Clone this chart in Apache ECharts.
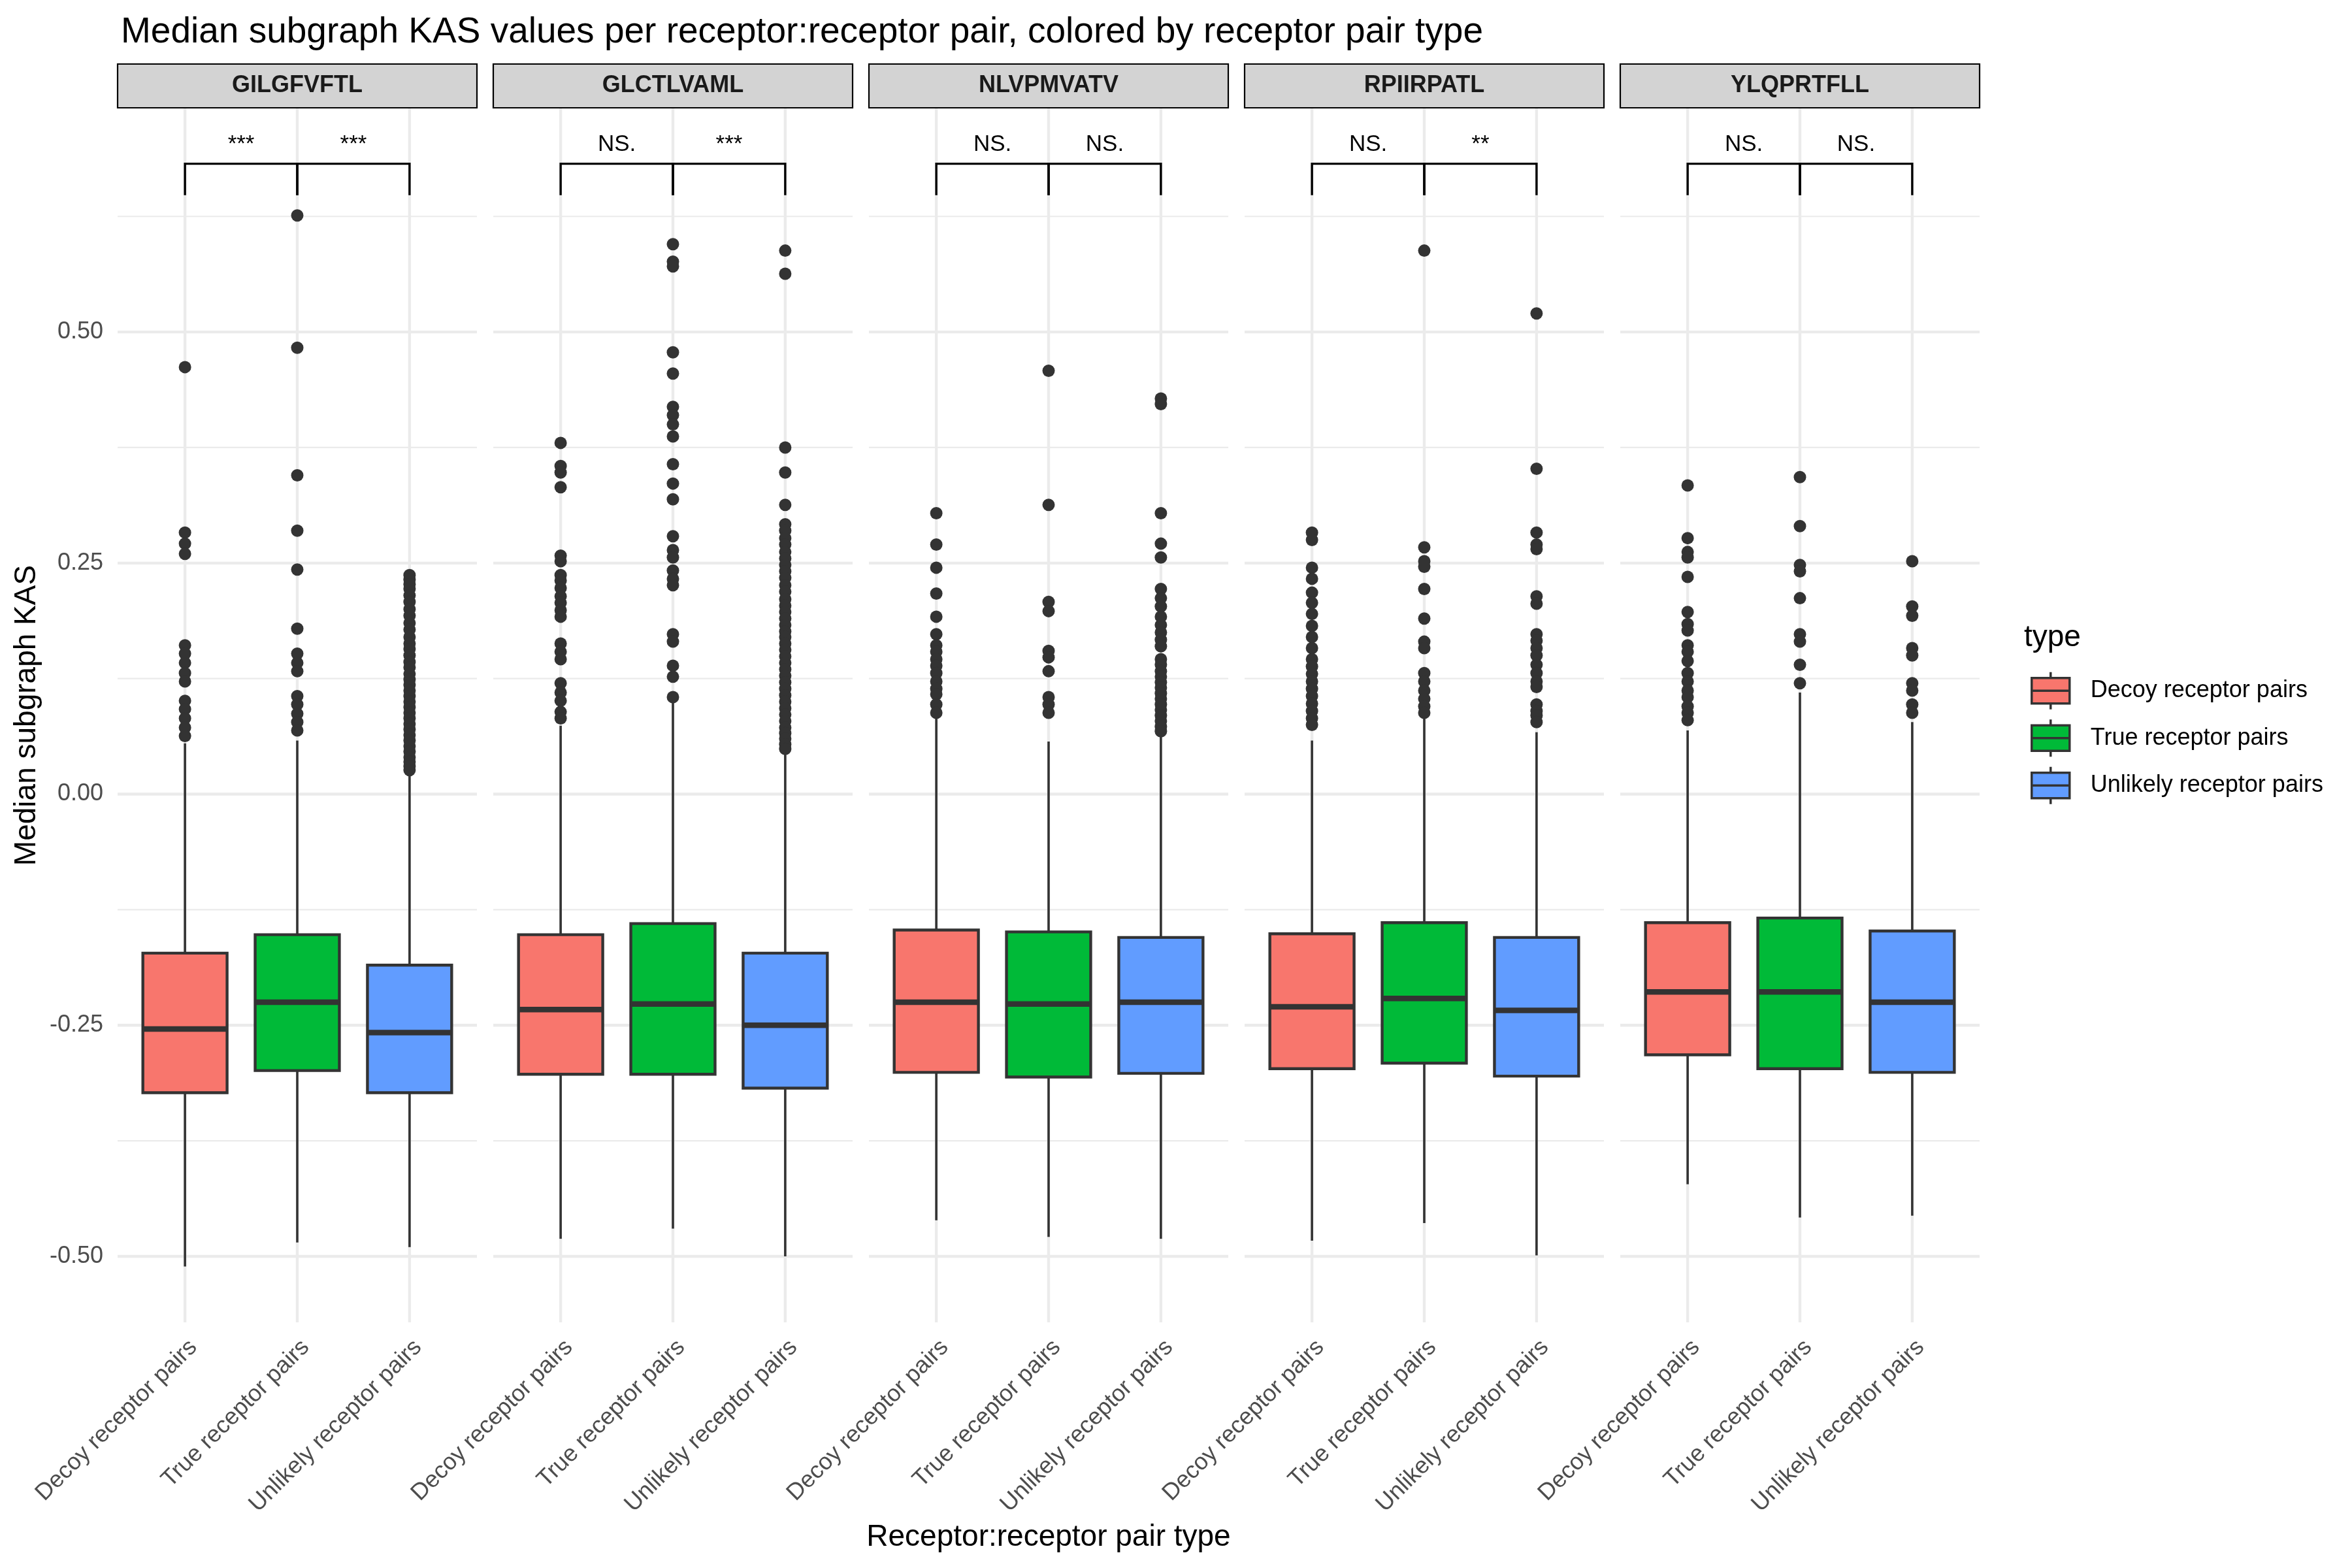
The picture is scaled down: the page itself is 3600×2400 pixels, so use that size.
<!DOCTYPE html>
<html>
<head>
<meta charset="utf-8">
<script src="https://cdn.jsdelivr.net/npm/echarts@6/dist/echarts.min.js"></script>
<style>
html,body{margin:0;padding:0;background:#ffffff;}
#chart{width:3600px;height:2400px;}
</style>
</head>
<body>
<div id="chart"></div>
<script>
// ---------------- data ----------------
const epitopes = ['GILGFVFTL', 'GLCTLVAML', 'NLVPMVATV', 'RPIIRPATL', 'YLQPRTFLL'];
const pairTypes = ['Decoy receptor pairs', 'True receptor pairs', 'Unlikely receptor pairs'];
const yTickValues = [-0.5, -0.25, 0, 0.25, 0.5];
const yMinorValues = [-0.375, -0.125, 0.125, 0.375, 0.625];

// box statistics per epitope: [lower whisker, Q1, median, Q3, upper whisker]
const decoyStats = [
  [-0.511, -0.323, -0.254, -0.172, 0.055],
  [-0.481, -0.303, -0.233, -0.152, 0.074],
  [-0.461, -0.301, -0.225, -0.147, 0.082],
  [-0.483, -0.297, -0.230, -0.151, 0.058],
  [-0.422, -0.282, -0.214, -0.139, 0.069]
];
const trueStats = [
  [-0.485, -0.299, -0.225, -0.152, 0.058],
  [-0.470, -0.303, -0.227, -0.140, 0.101],
  [-0.479, -0.306, -0.227, -0.149, 0.057],
  [-0.464, -0.291, -0.221, -0.139, 0.082],
  [-0.458, -0.297, -0.214, -0.134, 0.110]
];
const unlikelyStats = [
  [-0.490, -0.323, -0.258, -0.185, 0.021],
  [-0.500, -0.318, -0.250, -0.172, 0.044],
  [-0.481, -0.302, -0.225, -0.155, 0.063],
  [-0.499, -0.305, -0.234, -0.155, 0.067],
  [-0.456, -0.301, -0.225, -0.148, 0.078]
];

// outliers per epitope
const decoyOutliers = [
  [0.462, 0.283, 0.271, 0.260, 0.161, 0.152, 0.142, 0.131, 0.122, 0.101, 0.092, 0.082, 0.072, 0.063],
  [0.380, 0.355, 0.348, 0.332, 0.258, 0.252, 0.237, 0.231, 0.223, 0.214, 0.207, 0.199, 0.192, 0.163, 0.154, 0.146, 0.120, 0.110, 0.101, 0.089, 0.082],
  [0.304, 0.270, 0.245, 0.217, 0.192, 0.173, 0.161, 0.154, 0.146, 0.139, 0.131, 0.122, 0.114, 0.108, 0.097, 0.088],
  [0.283, 0.275, 0.245, 0.233, 0.218, 0.207, 0.195, 0.182, 0.170, 0.158, 0.146, 0.138, 0.130, 0.122, 0.114, 0.106, 0.098, 0.090, 0.082, 0.075],
  [0.334, 0.277, 0.262, 0.256, 0.235, 0.197, 0.184, 0.177, 0.161, 0.154, 0.144, 0.131, 0.122, 0.112, 0.105, 0.095, 0.088, 0.080]
];
const trueOutliers = [
  [0.626, 0.483, 0.345, 0.285, 0.243, 0.179, 0.152, 0.142, 0.133, 0.106, 0.097, 0.087, 0.078, 0.069],
  [0.595, 0.576, 0.571, 0.478, 0.455, 0.419, 0.410, 0.400, 0.387, 0.357, 0.336, 0.319, 0.279, 0.264, 0.256, 0.242, 0.233, 0.226, 0.173, 0.165, 0.139, 0.127, 0.105],
  [0.458, 0.313, 0.208, 0.198, 0.155, 0.148, 0.133, 0.105, 0.097, 0.088],
  [0.588, 0.267, 0.252, 0.246, 0.222, 0.190, 0.165, 0.158, 0.131, 0.122, 0.112, 0.103, 0.095, 0.088],
  [0.343, 0.290, 0.248, 0.241, 0.212, 0.173, 0.165, 0.140, 0.120]
];
const unlikelyOutliers = [
  [0.237, 0.232, 0.227, 0.222, 0.215, 0.208, 0.200, 0.193, 0.185, 0.178, 0.170, 0.163, 0.157, 0.150, 0.143, 0.137, 0.130, 0.124, 0.118, 0.112, 0.106, 0.100, 0.094, 0.088, 0.082, 0.076, 0.070, 0.064, 0.058, 0.052, 0.046, 0.040, 0.035, 0.030, 0.026],
  [0.588, 0.563, 0.375, 0.348, 0.313, 0.292, 0.285, 0.277, 0.270, 0.262, 0.255, 0.248, 0.241, 0.234, 0.226, 0.219, 0.211, 0.204, 0.197, 0.190, 0.183, 0.176, 0.170, 0.163, 0.156, 0.149, 0.142, 0.135, 0.128, 0.121, 0.114, 0.107, 0.100, 0.093, 0.086, 0.079, 0.072, 0.066, 0.060, 0.054, 0.049],
  [0.428, 0.422, 0.304, 0.271, 0.256, 0.222, 0.212, 0.203, 0.192, 0.183, 0.175, 0.167, 0.160, 0.146, 0.140, 0.133, 0.127, 0.121, 0.115, 0.109, 0.103, 0.097, 0.091, 0.085, 0.079, 0.073, 0.068],
  [0.520, 0.352, 0.283, 0.270, 0.265, 0.214, 0.206, 0.173, 0.166, 0.158, 0.150, 0.140, 0.131, 0.122, 0.116, 0.097, 0.090, 0.085, 0.078],
  [0.252, 0.203, 0.193, 0.158, 0.150, 0.120, 0.112, 0.097, 0.088]
];

// significance labels
const sigDecoyVsTrue = ['***', 'NS.', 'NS.', 'NS.', 'NS.'];
const sigTrueVsUnlikely = ['***', '***', 'NS.', '**', 'NS.'];
const bracketY = 0.682;
const bracketTipY = 0.648;

// axis range (ggplot expanded)
const yMin = -0.5714;
const yMax = 0.7418;

// ---------------- styling / layout ----------------
const FONT = 'Liberation Sans, Arial, Helvetica, sans-serif';
const typeColors = ['#F8766D', '#00BA38', '#619CFF'];
const PANEL_LEFT = 180, PANEL_W = 550, PANEL_STEP = 575, PANEL_TOP = 166, PANEL_H = 1858;
const STRIP_TOP = 98, STRIP_H = 67;

const allStats = [decoyStats, trueStats, unlikelyStats];
const allOutliers = [decoyOutliers, trueOutliers, unlikelyOutliers];

const chart = echarts.init(document.getElementById('chart'), null, {renderer: 'canvas'});

const grids = [], xAxes = [], yAxes = [], series = [], graphics = [];

epitopes.forEach(function (ep, i) {
  const left = PANEL_LEFT + i * PANEL_STEP;
  grids.push({left: left, top: PANEL_TOP, width: PANEL_W, height: PANEL_H,
              containLabel: false, outerBoundsMode: 'none'});
  xAxes.push({
    type: 'value', gridIndex: i, min: 0.4, max: 3.6,
    splitLine: {show: false}, axisLine: {show: false}, axisTick: {show: false},
    axisLabel: {
      customValues: [1, 2, 3],
      formatter: function (v) { return pairTypes[Math.round(v) - 1] || ''; },
      rotate: 45, fontSize: 36, color: '#4D4D4D', fontFamily: FONT,
      margin: 20, align: 'right', verticalAlign: 'top'
    }
  });
  yAxes.push({
    type: 'value', gridIndex: i, min: yMin, max: yMax,
    splitLine: {show: false}, axisLine: {show: false}, axisTick: {show: false},
    axisLabel: i === 0 ? {
      customValues: yTickValues,
      formatter: function (v) { return v.toFixed(2); },
      fontSize: 36, color: '#4D4D4D', fontFamily: FONT, margin: 22
    } : {show: false}
  });

  // gridlines
  const gridData = [];
  yTickValues.forEach(function (v) { gridData.push([v, 0]); });
  yMinorValues.forEach(function (v) { gridData.push([v, 1]); });
  [1, 2, 3].forEach(function (v) { gridData.push([v, 2]); });
  series.push({
    type: 'custom', name: 'grid' + i, xAxisIndex: i, yAxisIndex: i, silent: true, z: 0,
    data: gridData,
    renderItem: function (params, api) {
      const v = api.value(0), kind = api.value(1);
      let p1, p2;
      if (kind === 2) { p1 = api.coord([v, yMin]); p2 = api.coord([v, yMax]); }
      else { p1 = api.coord([0.4, v]); p2 = api.coord([3.6, v]); }
      return {type: 'line', shape: {x1: p1[0], y1: p1[1], x2: p2[0], y2: p2[1]},
              style: {stroke: '#EBEBEB', lineWidth: kind === 1 ? 2.2 : 4.4}};
    }
  });

  // boxes
  pairTypes.forEach(function (tname, t) {
    const s = allStats[t][i];
    series.push({
      type: 'custom', name: tname, xAxisIndex: i, yAxisIndex: i, z: 3,
      itemStyle: {color: typeColors[t]},
      encode: {x: 0, y: [1, 2, 3, 4, 5]},
      data: [[t + 1, s[0], s[1], s[2], s[3], s[4]]],
      renderItem: function (params, api) {
        const x = api.value(0);
        const lo = api.coord([x, api.value(1)]);
        const q1 = api.coord([x, api.value(2)]);
        const md = api.coord([x, api.value(3)]);
        const q3 = api.coord([x, api.value(4)]);
        const hi = api.coord([x, api.value(5)]);
        const hw = api.size([0.75, 0])[0] / 2;
        return {type: 'group', children: [
          {type: 'line', shape: {x1: lo[0], y1: lo[1], x2: q1[0], y2: q1[1]}, style: {stroke: '#333333', lineWidth: 3.6}},
          {type: 'line', shape: {x1: q3[0], y1: q3[1], x2: hi[0], y2: hi[1]}, style: {stroke: '#333333', lineWidth: 3.6}},
          {type: 'rect', shape: {x: q3[0] - hw, y: q3[1], width: hw * 2, height: q1[1] - q3[1]},
           style: {fill: api.visual('color'), stroke: '#333333', lineWidth: 4.4}},
          {type: 'line', shape: {x1: md[0] - hw, y1: md[1], x2: md[0] + hw, y2: md[1]}, style: {stroke: '#333333', lineWidth: 8.5}}
        ]};
      }
    });
    series.push({
      type: 'scatter', name: 'outliers', xAxisIndex: i, yAxisIndex: i, z: 4,
      symbol: 'circle', symbolSize: 19,
      itemStyle: {color: '#333333', opacity: 1},
      data: allOutliers[t][i].map(function (v) { return [t + 1, v]; })
    });
  });

  // significance brackets
  const sigLabels = [sigDecoyVsTrue[i], sigTrueVsUnlikely[i]];
  series.push({
    type: 'custom', name: 'signif' + i, xAxisIndex: i, yAxisIndex: i, z: 5, silent: true,
    data: [[1, 2], [2, 3]],
    renderItem: function (params, api) {
      const x1 = api.value(0), x2 = api.value(1);
      const a = api.coord([x1, bracketTipY]);
      const b = api.coord([x1, bracketY]);
      const c = api.coord([x2, bracketY]);
      const d = api.coord([x2, bracketTipY]);
      return {type: 'group', children: [
        {type: 'polyline', shape: {points: [a, b, c, d]},
         style: {stroke: '#000000', lineWidth: 3.4, fill: null}},
        {type: 'text', x: (b[0] + c[0]) / 2, y: b[1] - 12,
         style: {text: sigLabels[params.dataIndex], fill: '#000000', fontSize: 35,
                 fontFamily: FONT, align: 'center', verticalAlign: 'bottom'}}
      ]};
    }
  });

  // facet strip
  graphics.push({
    type: 'rect', shape: {x: left, y: STRIP_TOP, width: PANEL_W, height: STRIP_H},
    style: {fill: '#D3D3D3', stroke: '#000000', lineWidth: 2.2}, z: 10
  });
  graphics.push({
    type: 'text', x: left + PANEL_W / 2, y: STRIP_TOP + STRIP_H / 2, z: 11,
    style: {text: ep, fill: '#1A1A1A', fontSize: 36, fontWeight: 'bold', fontFamily: FONT,
            align: 'center', verticalAlign: 'middle'}
  });
});

// axis titles and legend title
graphics.push({
  type: 'text', x: 41, y: PANEL_TOP + PANEL_H / 2, rotation: Math.PI / 2, z: 11,
  style: {text: 'Median subgraph KAS', fill: '#000000', fontSize: 46, fontFamily: FONT,
          align: 'center', verticalAlign: 'middle'}
});
graphics.push({
  type: 'text', x: PANEL_LEFT + (PANEL_STEP * 4 + PANEL_W) / 2, y: 2353, z: 11,
  style: {text: 'Receptor:receptor pair type', fill: '#000000', fontSize: 46, fontFamily: FONT,
          align: 'center', verticalAlign: 'middle'}
});
graphics.push({
  type: 'text', x: 3098, y: 976, z: 11,
  style: {text: 'type', fill: '#000000', fontSize: 46, fontFamily: FONT,
          align: 'left', verticalAlign: 'middle'}
});

const boxIcon = 'path://M29,0L29,9M0,9L58,9L58,48L0,48ZM0,28.5L58,28.5M29,48L29,57';

const option = {
  animation: false,
  backgroundColor: '#ffffff',
  textStyle: {fontFamily: FONT},
  title: {
    text: 'Median subgraph KAS values per receptor:receptor pair, colored by receptor pair type',
    left: 180, top: 17,
    textStyle: {fontSize: 55, fontWeight: 'normal', color: '#000000', fontFamily: FONT}
  },
  legend: {
    data: pairTypes.map(function (n) { return {name: n, icon: boxIcon}; }),
    orient: 'vertical', left: 3103, top: 1022,
    itemWidth: 58, itemHeight: 57, itemGap: 12,
    itemStyle: {borderColor: '#333333', borderWidth: 3.5},
    textStyle: {fontSize: 36, color: '#000000', fontFamily: FONT, padding: [0, 0, 0, 27]}
  },
  grid: grids,
  xAxis: xAxes,
  yAxis: yAxes,
  series: series,
  graphic: graphics
};

chart.setOption(option);
</script>
</body>
</html>
